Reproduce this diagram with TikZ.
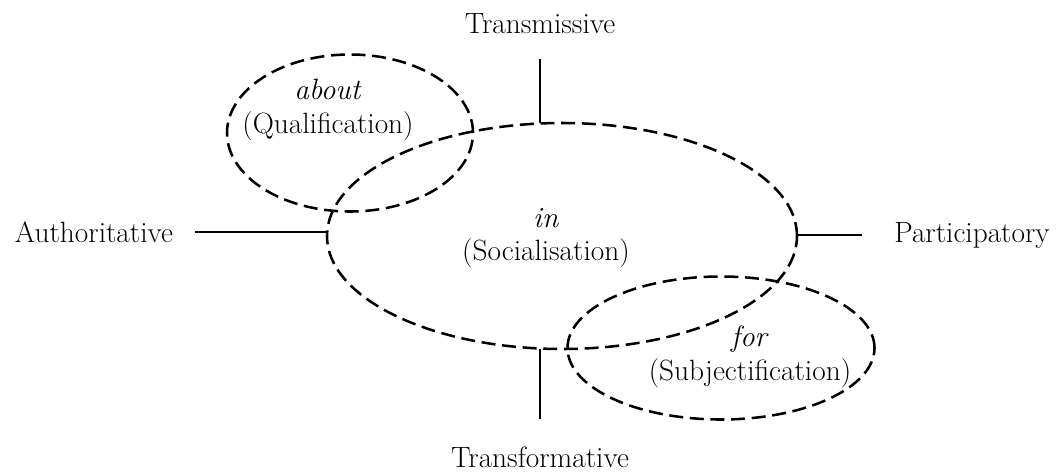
\documentclass[tikz,border=0pt]{standalone}
\usepackage{amsmath}
\usepackage{tikz}
\usetikzlibrary{shapes.geometric}

\begin{document}
\begin{tikzpicture}[x=0.75pt, y=-0.75pt, font=\fontsize{22}{25}\selectfont,
  ring/.style={draw, ellipse, dash pattern=on 10.5pt off 5pt, line width=1.9pt, inner sep=0pt, outer sep=0pt},
  pole/.style={inner sep=0pt, anchor=base},
  axis/.style={line width=1.8pt}]
\useasboundingbox (0,0) rectangle (1064,472);
\node[ring, minimum width=352.5pt, minimum height=169.5pt](soc) at (562,236){};
\node[ring, minimum width=184.5pt, minimum height=117.75pt](qual) at (350,133){};
\node[ring, minimum width=230.25pt, minimum height=107.25pt](subj) at (721,348){};
\node[align=center](soct) at (546,238){\textit{in}\\(Socialisation)};
\node[align=center](qualt) at (328,110){\textit{about}\\(Qualification)};
\node[align=center](subjt) at (750,357){\textit{for}\\(Subjectification)};
\node[pole](transm) at (540,33){Transmissive};
\node[pole](transf) at (540,467){Transformative};
\node[pole](auth) at (94,242){Authoritative};
\node[pole](part) at (972,242){Participatory};
\draw[axis, shorten <=16.5pt] (auth.east) -- (auth.east -| soc.west);
\draw[axis, shorten >=24pt] (part.west -| soc.east) -- (part.west);
\draw[axis, shorten <=18.75pt] (transm.south) -- (transm.south |- soc.north);
\draw[axis, shorten <=20pt] (transf.north) -- (transf.north |- soc.south);
\end{tikzpicture}
\end{document}
